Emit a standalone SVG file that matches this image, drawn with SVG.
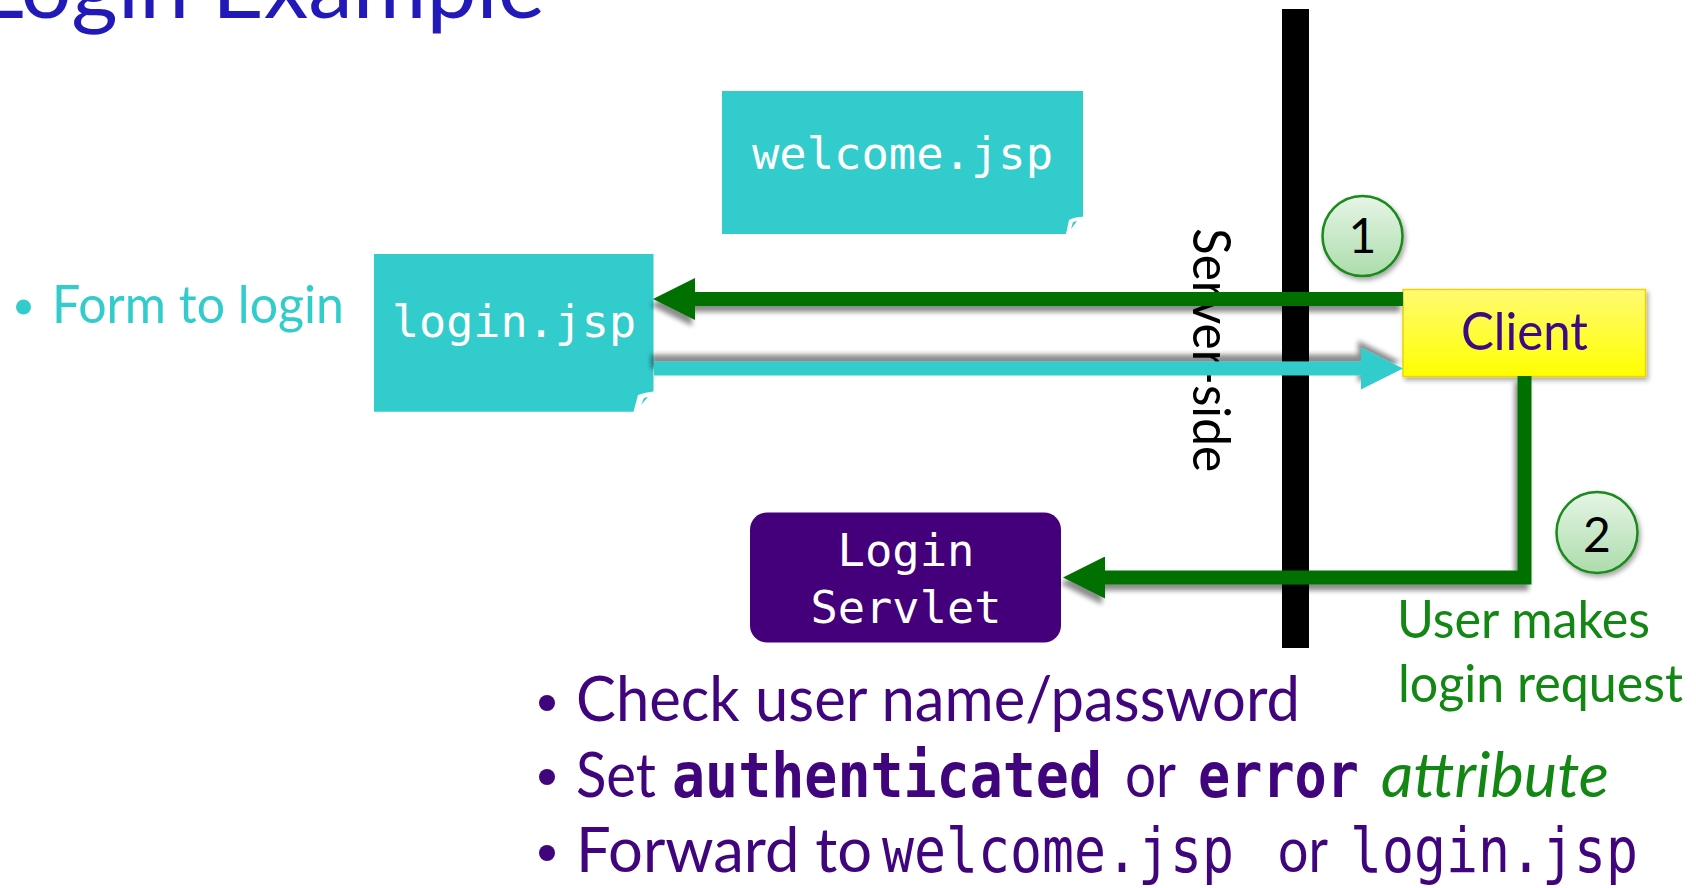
<svg xmlns="http://www.w3.org/2000/svg" width="1696" height="888" viewBox="0 0 1696 888">
  <style>
    .sans { font-family: Lato, "Open Sans", "Liberation Sans", sans-serif; }
    .mono { font-family: "DejaVu Sans Mono", "Liberation Mono", monospace; }
    .page { fill: #33CCCC; }
    .pageText { fill: #FFFFFF; font-size: 45px; }
    .purple { fill: #40047C; }
    .green { fill: #138713; }
    .flowGreen { fill: none; stroke: #006F00; stroke-width: 14; }
    .flowCyan { fill: none; stroke: #33CCCC; stroke-width: 14; }
    .step { fill: url(#stepFill); stroke: #1A8A1A; stroke-width: 2.5; }
    .stepText { fill: #000000; font-size: 48px; text-anchor: middle; }
    .note { font-size: 62px; }
  </style>
  <defs>
    <linearGradient id="stepFill" x1="0" y1="0" x2="0" y2="1">
      <stop offset="0" stop-color="#E6F5E6"/>
      <stop offset="1" stop-color="#ACDCAC"/>
    </linearGradient>
    <linearGradient id="clientFill" x1="0" y1="0" x2="0" y2="1">
      <stop offset="0" stop-color="#FFFB72"/>
      <stop offset="1" stop-color="#FFFF00"/>
    </linearGradient>
    <!-- user-space regions so straight horizontal lines still get a shadow -->
    <filter id="shadowDown" filterUnits="userSpaceOnUse" x="0" y="0" width="1696" height="888">
      <feDropShadow dx="-3" dy="6" stdDeviation="2.5" flood-color="#000000" flood-opacity="0.45"/>
    </filter>
    <filter id="shadowUp" filterUnits="userSpaceOnUse" x="0" y="0" width="1696" height="888">
      <feDropShadow dx="-3" dy="-7" stdDeviation="2.5" flood-color="#000000" flood-opacity="0.45"/>
    </filter>
    <filter id="boxShadow" x="-10%" y="-20%" width="125%" height="150%">
      <feDropShadow dx="2" dy="3" stdDeviation="2.5" flood-color="#000000" flood-opacity="0.35"/>
    </filter>
    <marker id="headGreen" markerUnits="userSpaceOnUse" markerWidth="42" markerHeight="42" viewBox="0 0 41 41" refX="0" refY="20.5" orient="auto">
      <path d="M0,0 L41,20.5 L0,41 Z" fill="#006F00"/>
    </marker>
    <marker id="headCyan" markerUnits="userSpaceOnUse" markerWidth="42" markerHeight="42" viewBox="0 0 41 41" refX="0" refY="20.5" orient="auto">
      <path d="M0,0 L41,20.5 L0,41 Z" fill="#33CCCC"/>
    </marker>
  </defs>

  <rect width="1696" height="888" fill="#FFFFFF"/>

  <!-- heading, partly above the top edge -->
  <text class="sans" x="-22" y="18" font-size="90" fill="#2219B9" textLength="567" lengthAdjust="spacingAndGlyphs">Login Example</text>

  <!-- note beside login.jsp -->
  <circle cx="23.5" cy="307" r="7.5" fill="#33CCCC"/>
  <text class="sans" x="52" y="323" font-size="52" fill="#33CCCC" textLength="292" lengthAdjust="spacingAndGlyphs">Form to login</text>

  <!-- server/client boundary -->
  <g id="boundary">
    <text class="sans" transform="translate(1193,228) rotate(90)" font-size="52" fill="#000000" textLength="244" lengthAdjust="spacingAndGlyphs">Server-side</text>
    <rect x="1282" y="9" width="27" height="639" fill="#000000"/>
  </g>

  <g id="welcome-jsp">
    <path class="page" d="M722,91 H1083 V216.7 Q1074,217 1069,220 L1066,234 H722 Z"/>
    <path d="M1071,229 L1073,222 L1077,221 Z" fill="#33CCCC"/>
    <text class="mono pageText" x="752" y="169" textLength="301" lengthAdjust="spacingAndGlyphs">welcome.jsp</text>
  </g>

  <g id="login-jsp">
    <path class="page" d="M374,254 H653.5 V391.5 Q645,392 638,395 L633.5,411.7 H374 Z"/>
    <path d="M641,405 L644,398 L648,397 Z" fill="#33CCCC"/>
    <text class="mono pageText" x="392" y="337" textLength="244" lengthAdjust="spacingAndGlyphs">login.jsp</text>
  </g>

  <g id="login-servlet">
    <rect x="750" y="512.5" width="311" height="130" rx="17" fill="#43007A"/>
    <text class="mono" x="906" y="566" font-size="45" fill="#FFFFFF" text-anchor="middle" textLength="137" lengthAdjust="spacingAndGlyphs">Login</text>
    <text class="mono" x="906" y="623" font-size="45" fill="#FFFFFF" text-anchor="middle" textLength="191" lengthAdjust="spacingAndGlyphs">Servlet</text>
  </g>

  <g id="client">
    <rect x="1403" y="289.5" width="242.5" height="87" fill="url(#clientFill)" stroke="#EFD400" stroke-width="1.5" filter="url(#boxShadow)"/>
    <text class="sans" x="1524.5" y="350" font-size="52" fill="#3C0A82" text-anchor="middle" textLength="127" lengthAdjust="spacingAndGlyphs">Client</text>
  </g>

  <!-- request/response flows, drawn over the boundary -->
  <g id="connectors">
    <line class="flowGreen" x1="1403" y1="299" x2="695" y2="299" marker-end="url(#headGreen)" filter="url(#shadowDown)"/>
    <line class="flowCyan" x1="654" y1="368.5" x2="1361" y2="368.5" marker-end="url(#headCyan)" filter="url(#shadowUp)"/>
    <polyline class="flowGreen" stroke-width="13" points="1524.5,376 1524.5,577.5 1105,577.5" marker-end="url(#headGreen)" filter="url(#shadowDown)"/>
  </g>

  <g id="step-1">
    <circle class="step" cx="1362.5" cy="236" r="40" filter="url(#boxShadow)"/>
    <text class="sans stepText" x="1362.5" y="253">1</text>
  </g>

  <g id="step-2">
    <circle class="step" cx="1597" cy="532.5" r="40.5" filter="url(#boxShadow)"/>
    <text class="sans stepText" x="1597" y="551.5">2</text>
  </g>

  <!-- caption for step 2 -->
  <text class="sans green" x="1397" y="638" font-size="52" textLength="253" lengthAdjust="spacingAndGlyphs">User makes</text>
  <text class="sans green" x="1398" y="702" font-size="52" textLength="285" lengthAdjust="spacingAndGlyphs">login request</text>

  <!-- what the servlet does -->
  <g class="purple">
    <circle cx="547" cy="703" r="8"/>
    <circle cx="547" cy="777" r="8"/>
    <circle cx="547" cy="853" r="8"/>
  </g>
  <text class="sans note purple" x="576" y="721" textLength="724" lengthAdjust="spacingAndGlyphs">Check user name/password</text>

  <text class="sans note purple" x="576" y="797" textLength="80" lengthAdjust="spacingAndGlyphs">Set</text>
  <text class="mono note purple" x="672" y="797" font-size="55" font-weight="bold" textLength="430" lengthAdjust="spacingAndGlyphs">authenticated</text>
  <text class="sans note purple" x="1125" y="797" textLength="51" lengthAdjust="spacingAndGlyphs">or</text>
  <text class="mono note purple" x="1198" y="797" font-size="55" font-weight="bold" textLength="161" lengthAdjust="spacingAndGlyphs">error</text>
  <text class="sans note green" x="1381" y="797" font-style="italic" textLength="228" lengthAdjust="spacingAndGlyphs">attribute</text>

  <text class="sans note purple" x="576" y="872" textLength="296" lengthAdjust="spacingAndGlyphs">Forward to</text>
  <text class="mono note purple" x="882" y="872" font-size="54" textLength="352" lengthAdjust="spacingAndGlyphs">welcome.jsp</text>
  <text class="sans note purple" x="1278" y="872" textLength="50" lengthAdjust="spacingAndGlyphs">or</text>
  <text class="mono note purple" x="1350" y="872" font-size="54" textLength="288" lengthAdjust="spacingAndGlyphs">login.jsp</text>
</svg>
